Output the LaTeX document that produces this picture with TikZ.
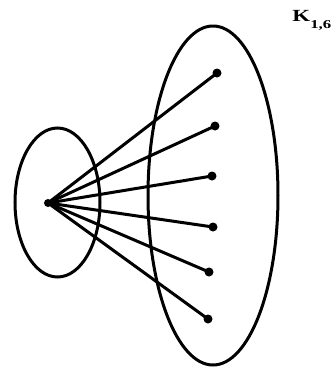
\documentclass[tikz,border=0pt]{standalone}
\usepackage{fontspec}
\setmainfont{Liberation Serif}
\begin{document}
\begin{tikzpicture}[x=1pt,y=-1pt,
  ring/.style={draw,line width=3pt},
  edge/.style={line width=3pt},
  dot/.style={circle,fill,inner sep=0pt,minimum size=9pt}]
\useasboundingbox (0,0) rectangle (333,376);
\draw[ring] (57.5,202.5) ellipse [x radius=42.5, y radius=74.5];
\draw[ring] (213,195.5) ellipse [x radius=65, y radius=169.5];
\node[dot,minimum size=8pt] (h) at (48,203) {};
\node[dot] (v1) at (217,73) {};
\node[dot] (v2) at (215,126) {};
\node[dot] (v3) at (212,176) {};
\node[dot] (v4) at (213,227) {};
\node[dot] (v5) at (209,272) {};
\node[dot] (v6) at (208,319) {};
\foreach \v in {v1,v2,v3,v4,v5,v6} \draw[edge] (h.center) -- (\v.center);
\node[anchor=base west,inner sep=0pt,xscale=1.35,font=\bfseries\fontsize{17}{20}\selectfont] (lab) at (292,21) {K};
\node[anchor=base west,inner sep=0pt,xscale=1.4,font=\bfseries\fontsize{12}{14}\selectfont] (sub) at (310,28) {1,6};
\end{tikzpicture}
\end{document}
